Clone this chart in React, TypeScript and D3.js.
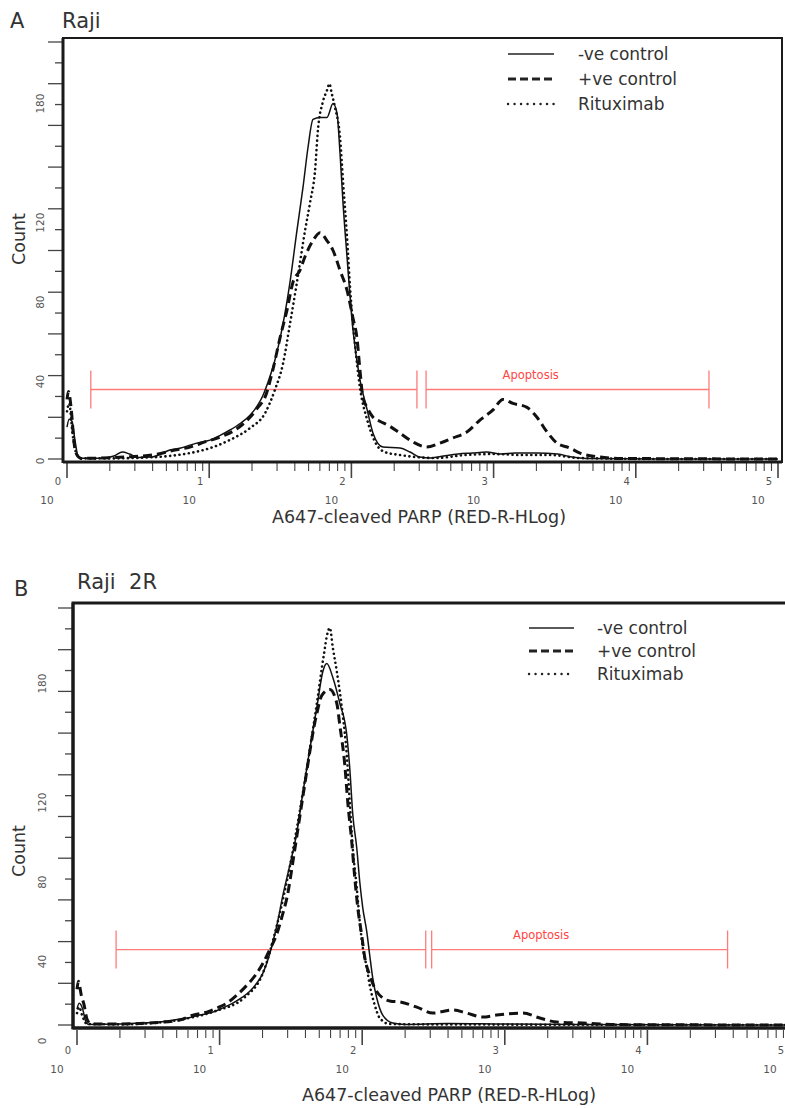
import { useEffect, useRef } from 'react';
import * as d3 from 'd3';

// Log axis decades (10^0 .. 10^5) and labelled count ticks
const decades = [0, 1, 2, 3, 4, 5];
const countTickLabels = [0, 40, 80, 120, 180];
const countMax = 210;

const seriesNames = ['-ve control', '+ve control', 'Rituximab'];

// Raji: [log10 channel, count]
const rajiNeg = [
  [0, 16], [0.015, 20], [0.035, 19], [0.055, 10], [0.075, 2], [0.1, 0.4], [0.25, 0.4], [0.33, 1.5],
  [0.39, 3.5], [0.44, 2.5], [0.5, 0.8], [0.6, 1], [0.66, 2.5], [0.724, 4.5], [0.8, 5.5], [0.865, 7],
  [0.94, 8.5], [1.006, 9.5], [1.08, 12], [1.146, 14.6], [1.22, 18], [1.287, 22], [1.34, 27], [1.378, 32],
  [1.42, 40], [1.463, 50], [1.519, 68], [1.568, 89], [1.617, 115], [1.66, 137], [1.695, 157], [1.73, 171],
  [1.779, 172], [1.828, 172], [1.871, 179], [1.899, 174], [1.92, 154], [1.941, 129], [1.969, 102],
  [2.011, 65], [2.06, 40], [2.11, 25], [2.152, 13], [2.222, 6], [2.342, 5.5], [2.412, 3.5], [2.48, 1],
  [2.56, 0.5], [2.65, 1.5], [2.75, 2.5], [2.85, 3], [2.95, 3.5], [3.05, 2.5], [3.15, 3], [3.3, 3],
  [3.45, 2.5], [3.55, 1], [3.65, 0.3], [4.2, 0], [5, 0],
];

const rajiPos = [
  [0, 30], [0.01, 34], [0.03, 25], [0.05, 8], [0.07, 2], [0.1, 0.3], [0.4, 1], [0.6, 2], [0.757, 4.5],
  [0.865, 6], [0.97, 8.6], [1.076, 11], [1.181, 14.6], [1.287, 21], [1.343, 26], [1.392, 31], [1.448, 45],
  [1.498, 61], [1.547, 75], [1.589, 89], [1.638, 95], [1.674, 102], [1.73, 110], [1.779, 114], [1.828, 110],
  [1.871, 105], [1.92, 95], [1.969, 85], [2.011, 71], [2.039, 61], [2.06, 45], [2.081, 31], [2.11, 26],
  [2.152, 21], [2.2, 19], [2.27, 16.5], [2.342, 13], [2.433, 8.6], [2.53, 6], [2.623, 8], [2.714, 10.6],
  [2.812, 13.6], [2.904, 19.6], [2.996, 24.7], [3.066, 30], [3.136, 28], [3.235, 26], [3.305, 21],
  [3.376, 13.6], [3.446, 8], [3.537, 5.5], [3.608, 3], [3.75, 1], [3.9, 0.3], [5, 0],
];

const rajiRitux = [
  [0, 24], [0.015, 28], [0.04, 12], [0.065, 3], [0.1, 0.3], [0.3, 0.3], [0.5, 0.6], [0.72, 1.5],
  [0.865, 3], [1.006, 5.5], [1.146, 9.6], [1.287, 15.6], [1.392, 23], [1.463, 35], [1.519, 48], [1.568, 68],
  [1.617, 89], [1.674, 115], [1.709, 129], [1.744, 145], [1.765, 166], [1.8, 180], [1.83, 186], [1.845, 189],
  [1.862, 184], [1.885, 177], [1.92, 162], [1.941, 140], [1.969, 112], [1.99, 87], [2.025, 58], [2.06, 36],
  [2.11, 20], [2.166, 8.6], [2.236, 3.5], [2.342, 2], [2.45, 1], [2.6, 0.5], [2.8, 2], [3.0, 2.5],
  [3.2, 2], [3.4, 2], [3.6, 0.5], [4.2, 0], [5, 0],
];

// Raji 2R
const raji2RNeg = [
  [0, 8], [0.015, 11], [0.04, 8], [0.06, 2], [0.08, 0.3], [0.3, 0.5], [0.45, 1], [0.58, 1.5], [0.68, 2.5],
  [0.77, 3.5], [0.86, 5], [0.953, 6.5], [1.02, 8.5], [1.093, 11], [1.16, 14], [1.212, 17], [1.26, 21],
  [1.303, 26], [1.352, 36], [1.401, 50], [1.443, 65], [1.493, 80.6], [1.542, 97], [1.584, 117], [1.633, 139],
  [1.682, 160], [1.724, 178], [1.752, 182], [1.794, 175], [1.843, 162], [1.892, 146], [1.913, 129],
  [1.934, 106], [1.962, 89], [1.983, 72], [2.004, 59], [2.032, 47], [2.053, 35], [2.074, 23.6],
  [2.102, 13.6], [2.144, 5], [2.214, 1], [2.3, 0.3], [2.6, 0.8], [3.0, 0.5], [3.5, 0.3], [5, 0],
];

const raji2RPos = [
  [0, 18], [0.01, 22], [0.03, 15], [0.05, 10], [0.07, 3], [0.1, 0.5], [0.3, 0.5], [0.5, 1], [0.72, 2.5],
  [0.813, 5], [0.911, 6.5], [0.98, 8.5], [1.051, 11], [1.12, 15], [1.191, 20], [1.25, 25], [1.303, 31],
  [1.352, 38], [1.402, 46], [1.443, 56], [1.472, 64], [1.52, 85], [1.584, 115], [1.682, 157], [1.717, 166],
  [1.773, 169], [1.822, 162], [1.843, 151], [1.878, 131], [1.899, 112], [1.927, 92], [1.948, 74],
  [1.969, 59], [1.997, 45], [2.018, 34], [2.053, 25], [2.088, 18.6], [2.144, 13.6], [2.2, 12],
  [2.263, 11.6], [2.383, 9], [2.495, 6], [2.635, 7.6], [2.733, 6], [2.845, 4], [2.943, 5], [3.125, 6],
  [3.245, 3.5], [3.364, 1.5], [3.546, 1], [3.8, 0.2], [5, 0],
];

const raji2RRitux = [
  [0, 6], [0.015, 9], [0.04, 4], [0.07, 0.5], [0.3, 0.3], [0.5, 0.8], [0.75, 3], [0.97, 7], [1.177, 14],
  [1.303, 26], [1.401, 50], [1.493, 80], [1.584, 117], [1.682, 162], [1.73, 186], [1.759, 198], [1.773, 200],
  [1.794, 190], [1.822, 178], [1.864, 156], [1.892, 136], [1.913, 112], [1.934, 89], [1.962, 69],
  [1.983, 52], [2.004, 39], [2.032, 29], [2.053, 20], [2.088, 10], [2.123, 3.5], [2.193, 0.5], [2.5, 0.3],
  [5, 0],
];

// Gates: [low, high] channel values, at a count level
const rajiGates = [[1.47, 289], [335, 32700]];
const rajiGateLevel = 35;
const raji2RGates = [[1.88, 279], [307, 36500]];
const raji2RGateLevel = 38;

const FONT = "'DejaVu Sans', Verdana, sans-serif";
const GATE_COLOR = '#ff7b7b';

const styles = [
  { width: 1.5, dash: null, cap: 'butt' },
  { width: 3, dash: '9,5', cap: 'butt' },
  { width: 2.6, dash: '0.1,4.6', cap: 'round' },
];
const legendStyles = [
  { width: 1.3, dash: null, cap: 'butt' },
  { width: 3, dash: '8,4', cap: 'butt' },
  { width: 2.4, dash: '0.1,6.4', cap: 'round' },
];

const panels = [
  {
    letter: 'A', letterX: 10, letterY: 28, title: 'Raji', titleX: 62, titleY: 28,
    frameLeft: 63, frameTop: 38, frameRight: 782, frameBottom: 462, frameW: 2,
    x0: 67, x1: 778, yBase: 459, yTop: 42,
    tickTop: 463, xExpY: 485, xNumY: 504, xLabelX: 419, xLabelY: 523,
    countX: 25, countY: 239, yLabelX: 44, labelShift: 2,
    legendX0: 508, legendX1: 554, legendTextX: 578, legendY: 54, legendStep: 25,
    series: [rajiNeg, rajiPos, rajiRitux], gates: rajiGates, gateLevel: rajiGateLevel,
  },
  {
    letter: 'B', letterX: 14, letterY: 596, title: 'Raji  2R', titleX: 77, titleY: 589,
    frameLeft: 73, frameTop: 603, frameRight: 800, frameBottom: 1028, frameW: 3,
    x0: 77, x1: 790, yBase: 1025, yTop: 608,
    tickTop: 1030, xExpY: 1054, xNumY: 1073, xLabelX: 449, xLabelY: 1101,
    countX: 25, countY: 851, yLabelX: 46, labelShift: 16,
    legendX0: 529, legendX1: 574, legendTextX: 597, legendY: 628, legendStep: 23,
    series: [raji2RNeg, raji2RPos, raji2RRitux], gates: raji2RGates, gateLevel: raji2RGateLevel,
  },
];

function drawPanel(svg: any, p: any) {
  const x = d3.scaleLog().domain([1, 1e5]).range([p.x0, p.x1]);
  const y = d3.scaleLinear().domain([0, countMax]).range([p.yBase, p.yTop]);
  const g = svg.append('g').style('font-family', FONT);

  // Panel letter and title
  g.append('text').attr('x', p.letterX).attr('y', p.letterY)
    .style('font-size', '21px').style('fill', '#333').text(p.letter);
  g.append('text').attr('x', p.titleX).attr('y', p.titleY)
    .style('font-size', '21px').style('fill', '#333').style('white-space', 'pre').text(p.title);

  // Y ticks (alternating long / short)
  const yTicks = d3.range(0, countMax + 0.01, countMax / 20);
  yTicks.forEach((v, i) => {
    g.append('line')
      .attr('x1', p.frameLeft - (i % 2 === 0 ? 15 : 8)).attr('x2', p.frameLeft)
      .attr('y1', y(v)).attr('y2', y(v))
      .attr('stroke', '#444').attr('stroke-width', 1.3);
  });
  countTickLabels.forEach(v => {
    g.append('text')
      .attr('transform', `translate(${p.yLabelX},${y(v) + p.labelShift}) rotate(-90)`)
      .attr('text-anchor', 'middle')
      .style('font-size', '10.5px').style('fill', '#555')
      .text(v);
  });

  // X ticks: minor 2..9, major at decades
  x.ticks().forEach(v => {
    const major = Math.abs(Math.log10(v) - Math.round(Math.log10(v))) < 1e-9;
    g.append('line')
      .attr('x1', x(v)).attr('x2', x(v))
      .attr('y1', p.tickTop).attr('y2', p.tickTop + (major ? 15 : 8))
      .attr('stroke', '#444').attr('stroke-width', major ? 1.6 : 1.1);
  });
  decades.forEach(k => {
    const px = x(10 ** k);
    g.append('text').attr('x', px - 9).attr('y', p.xExpY).attr('text-anchor', 'middle')
      .style('font-size', '10px').style('fill', '#555').text(k);
    g.append('text').attr('x', px - 20).attr('y', p.xNumY).attr('text-anchor', 'middle')
      .style('font-size', '10.5px').style('fill', '#555').text('10');
  });

  // Axis titles
  g.append('text').attr('x', p.xLabelX).attr('y', p.xLabelY).attr('text-anchor', 'middle')
    .style('font-size', '17.5px').style('fill', '#333').text('A647-cleaved PARP (RED-R-HLog)');
  g.append('text')
    .attr('transform', `translate(${p.countX},${p.countY}) rotate(-90)`)
    .attr('text-anchor', 'middle')
    .style('font-size', '17.5px').style('fill', '#333').text('Count');

  // Gates
  const gy = y(p.gateLevel);
  p.gates.forEach(([lo, hi]: number[]) => {
    g.append('line').attr('x1', x(lo)).attr('x2', x(hi)).attr('y1', gy).attr('y2', gy)
      .attr('stroke', GATE_COLOR).attr('stroke-width', 1.3);
    [lo, hi].forEach(v => {
      g.append('line').attr('x1', x(v)).attr('x2', x(v)).attr('y1', gy - 19).attr('y2', gy + 19)
        .attr('stroke', GATE_COLOR).attr('stroke-width', 1.3);
    });
  });
  const apo = p.gates[1];
  g.append('text')
    .attr('x', x(apo[0]) + 0.37 * (x(apo[1]) - x(apo[0])))
    .attr('y', gy - 11)
    .attr('text-anchor', 'middle')
    .style('font-size', '11.5px').style('fill', '#ff4545')
    .text('Apoptosis');

  // Histogram curves
  const line = d3.line<number[]>()
    .x(d => x(10 ** d[0]))
    .y(d => y(d[1]))
    .curve(d3.curveMonotoneX);
  p.series.forEach((s: number[][], i: number) => {
    const st = styles[i];
    g.append('path')
      .attr('d', line(s))
      .attr('fill', 'none')
      .attr('stroke', '#111')
      .attr('stroke-width', st.width)
      .attr('stroke-dasharray', st.dash)
      .attr('stroke-linecap', st.cap)
      .attr('stroke-linejoin', 'round');
  });

  // Frame
  g.append('rect')
    .attr('x', p.frameLeft).attr('y', p.frameTop)
    .attr('width', p.frameRight - p.frameLeft).attr('height', p.frameBottom - p.frameTop)
    .attr('fill', 'none').attr('stroke', '#1a1a1a').attr('stroke-width', p.frameW);
  g.append('line')
    .attr('x1', p.frameLeft).attr('x2', p.frameLeft)
    .attr('y1', p.frameTop).attr('y2', p.frameBottom + 1)
    .attr('stroke', '#1a1a1a').attr('stroke-width', 3);
  g.append('line')
    .attr('x1', p.frameLeft).attr('x2', p.frameRight)
    .attr('y1', p.frameBottom).attr('y2', p.frameBottom)
    .attr('stroke', '#1a1a1a').attr('stroke-width', 3);

  // Legend
  seriesNames.forEach((name, i) => {
    const ly = p.legendY + i * p.legendStep;
    const st = legendStyles[i];
    g.append('line')
      .attr('x1', p.legendX0).attr('x2', p.legendX1).attr('y1', ly).attr('y2', ly)
      .attr('stroke', '#222').attr('stroke-width', st.width)
      .attr('stroke-dasharray', st.dash).attr('stroke-linecap', st.cap);
    g.append('text')
      .attr('x', p.legendTextX).attr('y', ly + 6)
      .style('font-size', '17px').style('fill', '#333')
      .text(name);
  });
}

const App = () => {
  const svgRef = useRef<SVGSVGElement>(null);

  useEffect(() => {
    if (!svgRef.current) return;
    const svg = d3.select(svgRef.current);
    svg.selectAll('*').remove();
    panels.forEach(p => drawPanel(svg, p));
  }, []);

  return (
    <div style={{ position: 'absolute', left: 0, top: 0 }}>
      <svg ref={svgRef} width={785} height={1108} style={{ display: 'block', background: '#fff' }} />
    </div>
  );
};

export default App;
